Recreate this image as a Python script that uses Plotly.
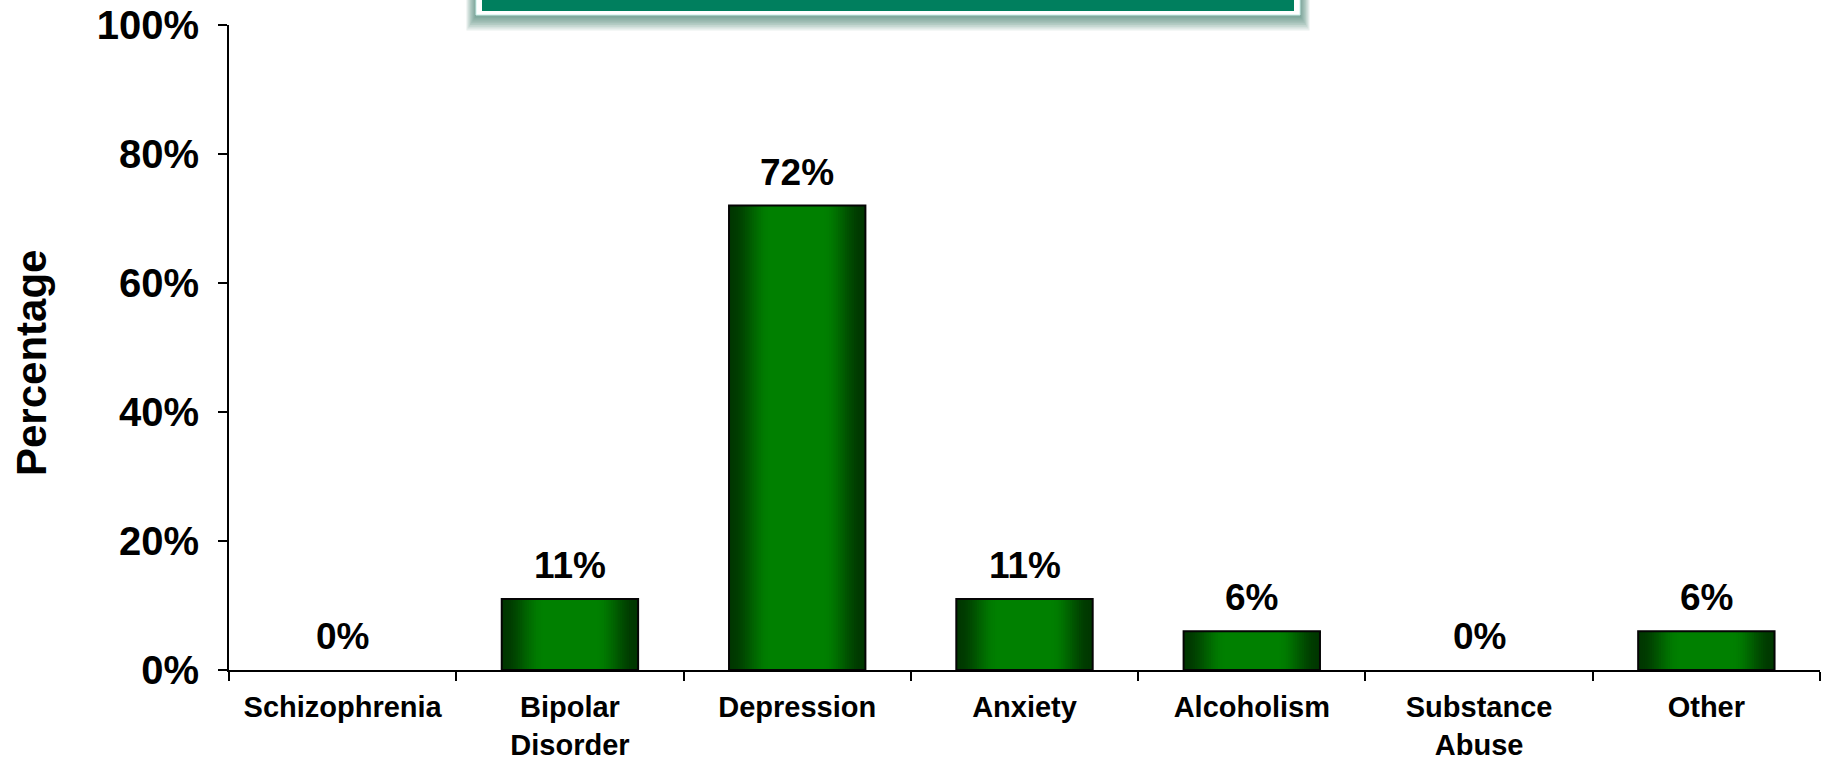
import plotly.graph_objects as go

# Share of respondents by diagnosis
categories = ["Schizophrenia", "Bipolar<br>Disorder", "Depression", "Anxiety",
              "Alcoholism", "Substance<br>Abuse", "Other"]
percentages = [0, 11, 72, 11, 6, 0, 6]
y_tick_values = [0, 20, 40, 60, 80, 100]
y_tick_labels = ["0%", "20%", "40%", "60%", "80%", "100%"]

W, H = 1823, 762
MARGIN = dict(l=229, r=3, t=25, b=92, pad=0)
PLOT_W = W - MARGIN["l"] - MARGIN["r"]
PLOT_H = H - MARGIN["t"] - MARGIN["b"]
FONT = "Liberation Sans, Arial, sans-serif"
BAR_WIDTH = 0.6


def px_x(p):
    return (p - MARGIN["l"]) / PLOT_W


def px_y(p):
    return (H - MARGIN["b"] - p) / PLOT_H


def shade(u):
    # dark edges fading to a bright green centre
    s = min(max(u / 0.6, 0.0), 1.0)
    s = s * s * (3 - 2 * s)
    dark, bright = (0, 55, 0), (0, 128, 0)
    r, g, b = (round(d + (c - d) * s) for d, c in zip(dark, bright))
    return f"rgb({r},{g},{b})"


def bold(size):
    return dict(family=FONT, size=size, color="black", weight="bold")


fig = go.Figure()

# cylindrical shading: nested bars, narrower layers drawn lighter
N_LAYERS = 30
for k in range(N_LAYERS):
    w = BAR_WIDTH * (1 - k / N_LAYERS)
    fig.add_trace(go.Bar(
        x=categories, y=percentages, width=w,
        marker=dict(color=shade(k / N_LAYERS), line=dict(width=0)),
        hoverinfo="skip", showlegend=False,
    ))

# outline of each non-empty bar
fig.add_trace(go.Bar(
    x=categories, y=percentages, width=BAR_WIDTH,
    marker=dict(color="rgba(0,0,0,0)",
                line=dict(color="#050505",
                          width=[2 if v > 0 else 0 for v in percentages])),
    showlegend=False,
    hovertemplate="%{x}: %{y}%<extra></extra>",
))

annotations = [
    dict(x=c, y=v, text=f"{v}%", showarrow=False, xref="x", yref="y",
         yanchor="bottom", yshift=11, font=bold(37))
    for c, v in zip(categories, percentages)
]

annotations.append(dict(
    text="Percentage", textangle=-90, showarrow=False,
    xref="paper", yref="paper", x=px_x(31), y=px_y(363),
    xanchor="center", yanchor="middle", font=bold(42),
))

# heading banner at the top edge, with a soft drop shadow
shapes = []
bx0, bx1, by1 = 476, 1300, 15
for j in range(8):
    e = 1.2 * (j + 1)
    shapes.append(dict(
        type="rect", xref="paper", yref="paper", layer="above",
        x0=px_x(bx0 - e), x1=px_x(bx1 + e),
        y0=px_y(by1 + 1.5 * e + 1), y1=px_y(-20),
        fillcolor="rgba(40,105,85,0.10)", line=dict(width=0),
    ))
shapes.append(dict(
    type="rect", xref="paper", yref="paper", layer="above",
    x0=px_x(bx0), x1=px_x(bx1), y0=px_y(by1), y1=px_y(-20),
    fillcolor="white", line=dict(color="#c8eee8", width=1),
))
shapes.append(dict(
    type="rect", xref="paper", yref="paper", layer="above",
    x0=px_x(bx0 + 6), x1=px_x(bx1 - 6), y0=px_y(by1 - 4), y1=px_y(-20),
    fillcolor="#007f5e", line=dict(width=0),
))

fig.update_layout(
    width=W, height=H, margin=MARGIN,
    paper_bgcolor="white", plot_bgcolor="white",
    barmode="overlay", bargap=0.4,
    font=dict(family=FONT, color="black"),
    annotations=annotations, shapes=shapes,
    showlegend=False,
)

fig.update_xaxes(
    type="category", showline=True, linecolor="black", linewidth=2,
    ticks="outside", tickson="boundaries", ticklen=9, tickwidth=1.5,
    tickcolor="black", ticklabelstandoff=10, showgrid=False, zeroline=False,
    tickfont=bold(29), automargin=False,
)

fig.update_yaxes(
    range=[0, 100], tickvals=y_tick_values, ticktext=y_tick_labels,
    showline=True, linecolor="black", linewidth=2,
    ticks="outside", ticklen=9, tickwidth=1.5, tickcolor="black",
    ticklabelstandoff=11, showgrid=False, zeroline=False,
    tickfont=bold(40), automargin=False,
)

fig.write_html("out.html", config={"displayModeBar": False})
